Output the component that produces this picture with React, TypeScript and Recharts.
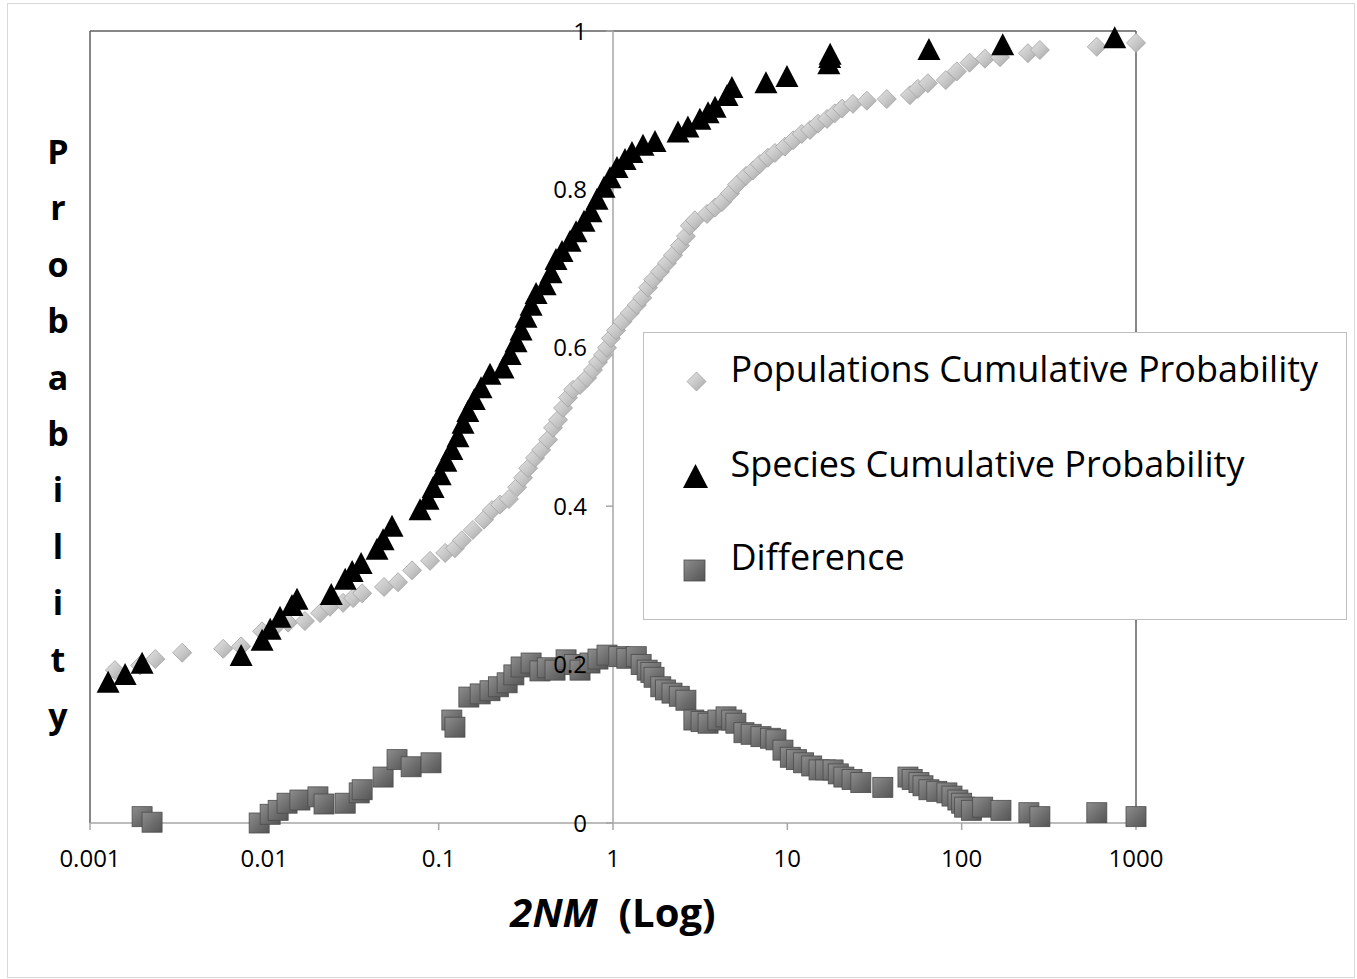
import { Legend, ReferenceLine, Scatter, ScatterChart, XAxis, YAxis } from 'recharts'

const FONT = '"Open Sans", "DejaVu Sans", sans-serif'
const AXIS_GRAY = '#a6a6a6'
const FRAME = '#5f5f5f'

const xTicks = [0.001, 0.01, 0.1, 1, 10, 100, 1000]
const yTicks = [0, 0.2, 0.4, 0.6, 0.8, 1]
const yTitleLetters = ['P', 'r', 'o', 'b', 'a', 'b', 'i', 'l', 'i', 't', 'y']
const seriesNames = ['Populations Cumulative Probability', 'Species Cumulative Probability', 'Difference']

// [2NM, probability]
const populations: Array<[number, number]> = [
  [0.00139, 0.193], [0.00194, 0.199], [0.00237, 0.207], [0.00338, 0.215], [0.00581, 0.22], [0.00736, 0.223],
  [0.00971, 0.242], [0.0117, 0.249], [0.0137, 0.253], [0.0171, 0.255], [0.0209, 0.265], [0.0238, 0.273],
  [0.0283, 0.278], [0.0323, 0.284], [0.0364, 0.29], [0.0486, 0.298], [0.0585, 0.304], [0.0704, 0.319],
  [0.0893, 0.331], [0.109, 0.341], [0.124, 0.347], [0.136, 0.357], [0.157, 0.37], [0.182, 0.383],
  [0.202, 0.395], [0.225, 0.402], [0.253, 0.409], [0.282, 0.424], [0.305, 0.436], [0.326, 0.448],
  [0.357, 0.461], [0.387, 0.471], [0.424, 0.484], [0.453, 0.499], [0.484, 0.509], [0.517, 0.524],
  [0.552, 0.537], [0.59, 0.547], [0.647, 0.553], [0.71, 0.562], [0.768, 0.572], [0.82, 0.582],
  [0.877, 0.591], [0.924, 0.6], [0.974, 0.612], [1.04, 0.622], [1.13, 0.633], [1.25, 0.644],
  [1.37, 0.654], [1.47, 0.663], [1.59, 0.676], [1.7, 0.686], [1.86, 0.696], [2.04, 0.707],
  [2.21, 0.717], [2.42, 0.729], [2.62, 0.741], [2.76, 0.754], [2.95, 0.761], [3.46, 0.769],
  [3.85, 0.777], [4.22, 0.784], [4.69, 0.795], [5.14, 0.806], [5.79, 0.817], [6.35, 0.824],
  [6.96, 0.832], [7.74, 0.84], [8.49, 0.846], [9.69, 0.854], [10.8, 0.862], [12.1, 0.87],
  [13.5, 0.875], [15.0, 0.883], [16.9, 0.889], [18.7, 0.896], [20.6, 0.902], [23.8, 0.908],
  [28.6, 0.912], [37.2, 0.914], [50.5, 0.919], [56.1, 0.927], [64.0, 0.934], [81.1, 0.938],
  [93.8, 0.949], [111, 0.96], [136, 0.965], [166, 0.967], [240, 0.972], [281, 0.976],
  [596, 0.98], [1000, 0.985],
]

const species: Array<[number, number]> = [
  [0.00127, 0.177], [0.00159, 0.187], [0.00199, 0.201], [0.00736, 0.211], [0.00971, 0.23], [0.0108, 0.244],
  [0.0123, 0.259], [0.0144, 0.274], [0.0154, 0.282], [0.0242, 0.288], [0.0291, 0.307], [0.0319, 0.317],
  [0.0359, 0.327], [0.0443, 0.345], [0.048, 0.357], [0.054, 0.374], [0.0782, 0.395], [0.0869, 0.408],
  [0.0929, 0.423], [0.102, 0.439], [0.11, 0.456], [0.119, 0.471], [0.129, 0.487], [0.138, 0.504],
  [0.147, 0.519], [0.16, 0.534], [0.175, 0.549], [0.197, 0.566], [0.234, 0.574], [0.257, 0.591],
  [0.278, 0.607], [0.297, 0.622], [0.317, 0.638], [0.339, 0.653], [0.362, 0.668], [0.408, 0.679],
  [0.441, 0.694], [0.471, 0.711], [0.51, 0.721], [0.567, 0.734], [0.614, 0.746], [0.682, 0.759],
  [0.748, 0.771], [0.81, 0.787], [0.888, 0.802], [0.961, 0.814], [1.054, 0.827], [1.172, 0.837],
  [1.285, 0.846], [1.486, 0.855], [1.741, 0.86], [2.36, 0.872], [2.69, 0.878], [3.15, 0.888],
  [3.51, 0.896], [3.85, 0.903], [4.51, 0.918], [4.81, 0.928], [7.54, 0.934], [9.95, 0.942],
  [17.3, 0.958], [17.5, 0.966], [17.6, 0.97], [64.9, 0.976], [172, 0.982], [755, 0.991],
]

const difference: Array<[number, number]> = [
  [0.00199, 0.008], [0.00227, 0.001], [0.00934, 0.0], [0.0108, 0.011], [0.012, 0.016], [0.0135, 0.025],
  [0.016, 0.029], [0.0203, 0.033], [0.022, 0.024], [0.0291, 0.025], [0.035, 0.038], [0.0364, 0.042],
  [0.048, 0.058], [0.0577, 0.08], [0.0695, 0.071], [0.0904, 0.076], [0.119, 0.13], [0.124, 0.121],
  [0.149, 0.159], [0.173, 0.163], [0.197, 0.167], [0.22, 0.172], [0.247, 0.177], [0.27, 0.187],
  [0.297, 0.197], [0.339, 0.202], [0.381, 0.192], [0.42, 0.196], [0.465, 0.193], [0.538, 0.206],
  [0.6, 0.2], [0.647, 0.193], [0.738, 0.202], [0.82, 0.207], [0.924, 0.212], [1.08, 0.21],
  [1.2, 0.208], [1.36, 0.21], [1.45, 0.2], [1.57, 0.193], [1.65, 0.19], [1.72, 0.184],
  [1.88, 0.172], [2.0, 0.168], [2.18, 0.164], [2.4, 0.16], [2.62, 0.155], [2.91, 0.13],
  [3.2, 0.128], [3.51, 0.126], [4.0, 0.13], [4.45, 0.134], [4.8, 0.13], [5.07, 0.126],
  [5.64, 0.114], [6.2, 0.112], [7.06, 0.109], [8.0, 0.107], [8.61, 0.105], [9.44, 0.092],
  [10.4, 0.083], [11.3, 0.08], [12.4, 0.076], [13.8, 0.072], [15.2, 0.067], [16.6, 0.067],
  [18.3, 0.067], [19.6, 0.062], [21.1, 0.058], [23.5, 0.055], [26.4, 0.051], [35.3, 0.045],
  [49.2, 0.058], [52, 0.055], [56.9, 0.051], [60, 0.047], [64.9, 0.042], [72, 0.04],
  [82.3, 0.038], [88, 0.034], [95.1, 0.029], [100, 0.025], [104, 0.02], [114, 0.016],
  [132, 0.02], [168, 0.016], [243, 0.013], [281, 0.008], [596, 0.013], [1000, 0.008],
]

const toPoints = (pairs: Array<[number, number]>) => pairs.map(([x, y]) => ({ x, y }))

type ShapeProps = { cx?: number; cy?: number }

const Diamond = ({ cx, cy }: ShapeProps) => {
  if (cx == null || cy == null) return null
  const r = 9.5
  return (
    <polygon
      points={`${cx},${cy - r} ${cx + r},${cy} ${cx},${cy + r} ${cx - r},${cy}`}
      fill="url(#popFill) #c4c4c4"
      stroke="#a2a2a2"
      strokeWidth={0.8}
    />
  )
}

const Triangle = ({ cx, cy }: ShapeProps) => {
  if (cx == null || cy == null) return null
  return <polygon points={`${cx},${cy - 12} ${cx + 11.5},${cy + 10} ${cx - 11.5},${cy + 10}`} fill="#000" />
}

const Square = ({ cx, cy }: ShapeProps) => {
  if (cx == null || cy == null) return null
  return <rect x={cx - 10} y={cy - 10} width={20} height={20} fill="url(#diffFill) #6c6c6c" stroke="#4c4c4c" strokeWidth={0.8} />
}

const XTitle = ({ viewBox }: { viewBox?: { x: number; y: number; width: number } }) => {
  if (!viewBox) return null
  return (
    <text x={viewBox.x + viewBox.width / 2} y={viewBox.y + 104} textAnchor="middle" fontFamily={FONT} fontWeight={700} fontSize={40} fill="#000">
      <tspan fontStyle="italic">2NM</tspan>
      <tspan>{'\u00a0\u00a0(Log)'}</tspan>
    </text>
  )
}

// legend keeps the series order (the library sorts its payload by name)
const LegendBox = () => {
  const rows = [48.5, 143.5, 236.5]
  return (
    <svg width={701} height={285} style={{ display: 'block' }}>
      <polygon points="52.5,39 62,48.5 52.5,58 43,48.5" fill="url(#popFill) #c4c4c4" stroke="#a2a2a2" strokeWidth={0.8} />
      <polygon points="51.5,131 64,155 39,155" fill="#000" />
      <rect x={40} y={227} width={21} height={21} fill="url(#diffFill) #6c6c6c" stroke="#4c4c4c" strokeWidth={0.8} />
      {seriesNames.map((name, i) => (
        <text key={name} x={86.5} y={rows[i]} fontFamily={FONT} fontSize={36} fill="#000">
          {name}
        </text>
      ))}
    </svg>
  )
}

export default function App() {
  return (
    <div style={{ position: 'absolute', left: 0, top: 0, width: 1357, height: 979, background: '#fff', fontFamily: FONT }}>
      <div style={{ position: 'absolute', left: 7, top: 3, width: 1346, height: 973, border: '1px solid #d9d9d9' }} />
      <svg width={100} height={800} style={{ position: 'absolute', left: 8, top: 0 }}>
        {yTitleLetters.map((ch, i) => (
          <text key={i} x={50} y={164 + i * 56.4} textAnchor="middle" fontFamily={FONT} fontWeight={700} fontSize={34} fill="#000">
            {ch}
          </text>
        ))}
      </svg>
      <ScatterChart width={1357} height={979} margin={{ top: 31, right: 221, bottom: 96, left: 90 }}>
        <defs>
          <linearGradient id="popFill" x1="0" y1="0" x2="1" y2="1">
            <stop offset="0%" stopColor="#e4e4e4" />
            <stop offset="55%" stopColor="#c6c6c6" />
            <stop offset="100%" stopColor="#a4a4a4" />
          </linearGradient>
          <linearGradient id="diffFill" x1="0" y1="0" x2="1" y2="1">
            <stop offset="0%" stopColor="#8e8e8e" />
            <stop offset="60%" stopColor="#6a6a6a" />
            <stop offset="100%" stopColor="#555555" />
          </linearGradient>
        </defs>
        <XAxis
          type="number"
          dataKey="x"
          scale="log"
          domain={[0.001, 1000]}
          ticks={xTicks}
          interval={0}
          height={60}
          tickSize={7}
          tickMargin={20}
          axisLine={{ stroke: AXIS_GRAY, strokeWidth: 1.5 }}
          tickLine={{ stroke: AXIS_GRAY, strokeWidth: 1.5 }}
          tick={{ fill: '#000', fontSize: 24, fontFamily: FONT }}
          tickFormatter={(v) => String(v)}
          label={{ content: XTitle as any }}
        />
        <YAxis type="number" dataKey="y" domain={[0, 1]} ticks={yTicks} hide />
        <ReferenceLine x={0.001} stroke={FRAME} strokeWidth={1.5} />
        <ReferenceLine x={1000} stroke={FRAME} strokeWidth={1.5} />
        <ReferenceLine y={1} stroke={FRAME} strokeWidth={1.5} />
        <ReferenceLine x={1} stroke={AXIS_GRAY} strokeWidth={1.5} />
        <Scatter name={seriesNames[0]} data={toPoints(populations)} shape={Diamond as any} isAnimationActive={false} />
        <Scatter name={seriesNames[1]} data={toPoints(species)} shape={Triangle as any} isAnimationActive={false} />
        <Scatter name={seriesNames[2]} data={toPoints(difference)} shape={Square as any} isAnimationActive={false} />
        {yTicks.map((v) => (
          <ReferenceLine
            key={v}
            segment={[{ x: 0.912, y: v }, { x: 1, y: v }]}
            stroke={AXIS_GRAY}
            strokeWidth={1.5}
            label={{ value: String(v), position: 'left', offset: 19, fill: '#000', fontSize: 24, fontFamily: FONT }}
          />
        ))}
        <Legend
          layout="vertical"
          align="center"
          verticalAlign="middle"
          content={LegendBox as any}
          wrapperStyle={{
            left: 643,
            top: 332,
            width: 704,
            height: 288,
            background: '#fff',
            border: '1.5px solid #bfbfbf',
            boxSizing: 'border-box',
          }}
        />
      </ScatterChart>
    </div>
  )
}
